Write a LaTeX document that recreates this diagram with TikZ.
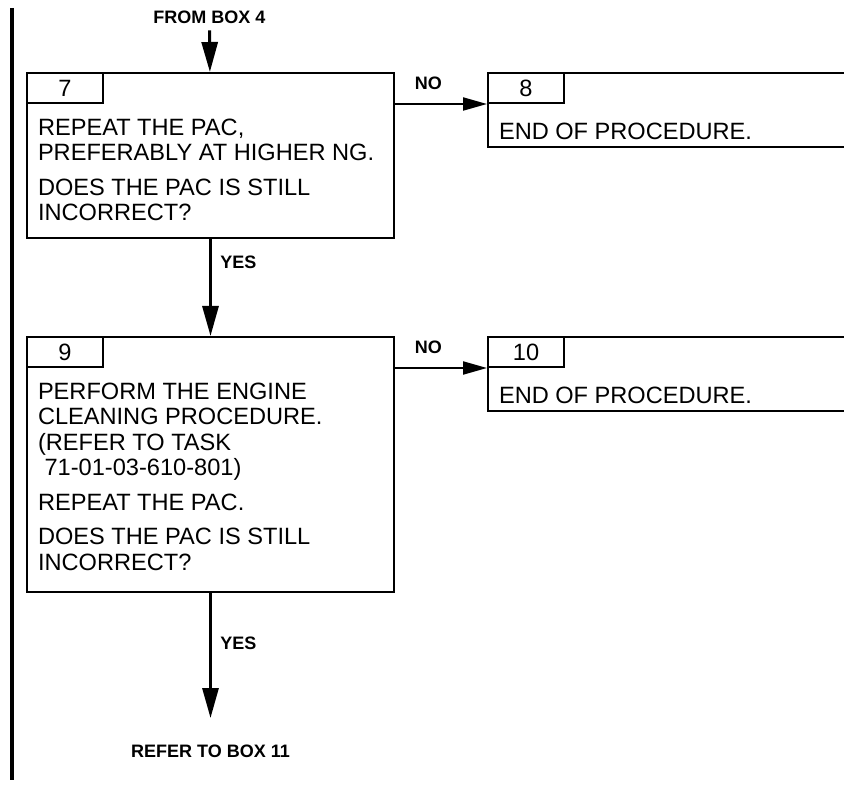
\documentclass[tikz,border=0pt]{standalone}
\usepackage{fontspec}
\setmainfont{Liberation Sans}
\usetikzlibrary{arrows.meta,positioning}

\begin{document}
\begin{tikzpicture}[x=0.5pt,y=-0.5pt,
    stepbox/.style={draw,line width=1pt,minimum width=183.5pt,inner sep=0pt},
    numcell/.style={draw,line width=1pt,minimum width=38pt,minimum height=15pt,
                    inner sep=0pt,anchor=north west,font=\fontsize{11.8}{12.75}\selectfont},
    bodytxt/.style={align=left,inner sep=0pt,outer sep=0pt,
                    font=\fontsize{11.8}{12.75}\selectfont},
    lbl/.style={font=\bfseries\fontsize{9}{10}\selectfont},
    varrow/.style={-{Triangle[length=15pt,width=8pt]},line width=1.5pt},
    harrow/.style={-{Triangle[length=12pt,width=6.5pt]},line width=1pt}]
  \useasboundingbox (0,0) rectangle (844,785);
  \clip (0,0) rectangle (844,785);
  \draw[line width=2pt] (12,8) -- (12,780);

  \node[lbl] (from4) at (209.5,17) {FROM BOX 4};
  \node[stepbox,anchor=north west,minimum height=82.5pt] (box7) at (26,72) {};
  \node[numcell] (num7) at (box7.north west) {7};
  \node[bodytxt,below right=7.5pt and 6pt of num7.south west] (txt7)
       {REPEAT THE PAC,\\PREFERABLY AT HIGHER NG.\\[4.5pt]DOES THE PAC IS STILL\\INCORRECT?};

  \node[stepbox,minimum width=220pt,minimum height=37pt,
        right=46pt of box7.north east,anchor=north west] (box8) {};
  \node[numcell] (num8) at (box8.north west) {8};
  \node[bodytxt,below right=9.5pt and 6pt of num8.south west] (txt8) {END OF PROCEDURE.};

  \node[stepbox,minimum height=127.5pt,below=48.5pt of box7.south west,
        anchor=north west] (box9) {};
  \node[numcell] (num9) at (box9.north west) {9};
  \node[bodytxt,below right=7.5pt and 6pt of num9.south west] (txt9)
       {PERFORM THE ENGINE\\CLEANING PROCEDURE.\\(REFER TO TASK\\\hspace*{0.28em}71-01-03-610-801)\\[4.5pt]REPEAT THE PAC.\\[4.5pt]DOES THE PAC IS STILL\\INCORRECT?};

  \node[stepbox,minimum width=220pt,minimum height=37pt,
        right=46pt of box9.north east,anchor=north west] (box10) {};
  \node[numcell] (num10) at (box10.north west) {10};
  \node[bodytxt,below right=9.5pt and 6pt of num10.south west] (txt10) {END OF PROCEDURE.};

  \node[lbl,below=72.5pt of box9] (refer11) {REFER TO BOX 11};

  \draw[varrow] (from4) -- (box7);
  \draw[varrow] (box7) -- node[lbl,pos=0.24,right=0.8pt] (yes7) {YES} (box9);
  \draw[varrow,shorten >=10pt] (box9) -- node[lbl,pos=0.345,right=0.8pt] (yes9) {YES} (refer11);
  \draw[harrow] (box7.east |- num8.south west) -- node[lbl,pos=0.364,above=3.5pt] (no7) {NO} (num8.south west);
  \draw[harrow] (box9.east |- num10.south west) -- node[lbl,pos=0.364,above=3.5pt] (no9) {NO} (num10.south west);
\end{tikzpicture}
\end{document}
